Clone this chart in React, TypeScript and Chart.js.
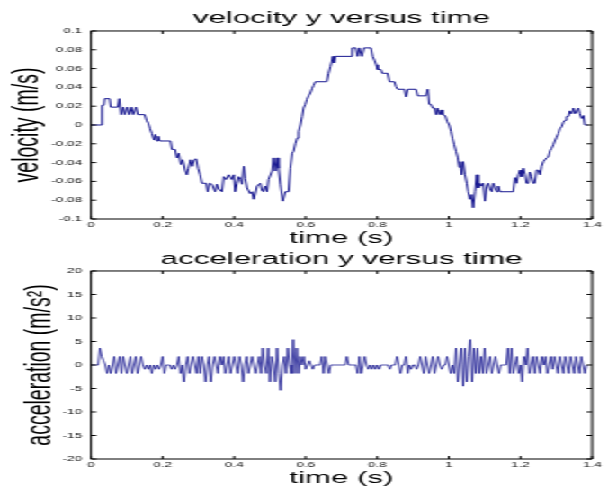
import React, { useEffect, useRef } from "react";
import { Chart, registerables } from "chart.js";

Chart.register(...registerables);

// ---------------- data ----------------
const timeTicks = [0, 0.2, 0.4, 0.6, 0.8, 1, 1.2, 1.4];
const timeTickLabels = ["0", "0.2", "0.4", "0.6", "0.8", "1", "1.2", "1.4"];

const velTicks = [-0.1, -0.08, -0.06, -0.04, -0.02, 0, 0.02, 0.04, 0.06, 0.08, 0.1];
const velTickLabels = ["-0.1", "-0.08", "-0.06", "-0.04", "-0.02", "0", "0.02", "0.04", "0.06", "0.08", "0.1"];

const accTicks = [-20, -15, -10, -5, 0, 5, 10, 15, 20];
const accTickLabels = ["-20", "-15", "-10", "-5", "0", "5", "10", "15", "20"];

const velTime = [
  0, 0.028, 0.031, 0.036, 0.038, 0.052, 0.055, 0.075, 0.079, 0.084,
  0.09, 0.094, 0.101, 0.106, 0.113, 0.118, 0.126, 0.131, 0.15, 0.155,
  0.16, 0.165, 0.17, 0.176, 0.18, 0.184, 0.188, 0.192, 0.222, 0.226,
  0.235, 0.24, 0.245, 0.251, 0.256, 0.263, 0.268, 0.272, 0.278, 0.283,
  0.288, 0.294, 0.299, 0.305, 0.31, 0.322, 0.326, 0.331, 0.338, 0.347,
  0.352, 0.357, 0.366, 0.371, 0.378, 0.385, 0.394, 0.399, 0.403, 0.408,
  0.413, 0.418, 0.422, 0.427, 0.431, 0.436, 0.445, 0.45, 0.455, 0.464,
  0.473, 0.478, 0.482, 0.487, 0.492, 0.496, 0.506, 0.51, 0.515, 0.52,
  0.524, 0.529, 0.536, 0.543, 0.552, 0.557, 0.562, 0.566, 0.571, 0.576,
  0.58, 0.585, 0.59, 0.594, 0.599, 0.603, 0.608, 0.613, 0.618, 0.622,
  0.627, 0.659, 0.664, 0.669, 0.673, 0.676, 0.679, 0.683, 0.726, 0.73,
  0.74, 0.745, 0.75, 0.757, 0.763, 0.782, 0.787, 0.792, 0.797, 0.801,
  0.81, 0.814, 0.829, 0.834, 0.848, 0.852, 0.857, 0.876, 0.88, 0.885,
  0.908, 0.913, 0.936, 0.941, 0.945, 0.95, 0.955, 0.96, 0.964, 0.968,
  0.973, 0.978, 0.982, 0.99, 0.995, 1.001, 1.006, 1.01, 1.015, 1.02,
  1.025, 1.029, 1.032, 1.036, 1.04, 1.045, 1.05, 1.054, 1.059, 1.063,
  1.068, 1.073, 1.078, 1.082, 1.087, 1.092, 1.096, 1.101, 1.106, 1.11,
  1.115, 1.12, 1.124, 1.129, 1.134, 1.138, 1.143, 1.18, 1.185, 1.189,
  1.194, 1.199, 1.203, 1.208, 1.213, 1.217, 1.222, 1.226, 1.231, 1.236,
  1.24, 1.245, 1.25, 1.255, 1.259, 1.264, 1.273, 1.278, 1.283, 1.287,
  1.292, 1.296, 1.301, 1.306, 1.31, 1.315, 1.32, 1.325, 1.329, 1.334,
  1.338, 1.343, 1.348, 1.353, 1.357, 1.362, 1.366, 1.371, 1.376, 1.38,
  1.388,
];

const velValues = [
  0, 0, 0.021, 0.021, 0.028, 0.028, 0.019, 0.019, 0.028, 0.011,
  0.019, 0.011, 0.019, 0.011, 0.019, 0.011, 0.019, 0.011, 0.011, 0.005,
  0.002, -0.004, -0.009, -0.016, -0.01, -0.017, -0.012, -0.017, -0.017, -0.026,
  -0.026, -0.035, -0.03, -0.042, -0.037, -0.048, -0.053, -0.046, -0.037, -0.044,
  -0.037, -0.036, -0.046, -0.053, -0.062, -0.062, -0.071, -0.062, -0.063, -0.071,
  -0.063, -0.068, -0.071, -0.055, -0.058, -0.053, -0.058, -0.053, -0.071, -0.062,
  -0.055, -0.058, -0.063, -0.044, -0.057, -0.067, -0.073, -0.071, -0.079, -0.065,
  -0.062, -0.07, -0.071, -0.065, -0.071, -0.058, -0.049, -0.035, -0.049, -0.035,
  -0.046, -0.063, -0.081, -0.071, -0.071, -0.046, -0.03, -0.028, -0.02, -0.014,
  -0.007, 0, 0.009, 0.018, 0.022, 0.027, 0.031, 0.034, 0.039, 0.042,
  0.046, 0.046, 0.055, 0.062, 0.068, 0.073, 0.066, 0.073, 0.073, 0.082,
  0.082, 0.073, 0.082, 0.073, 0.082, 0.082, 0.073, 0.069, 0.064, 0.059,
  0.059, 0.055, 0.055, 0.046, 0.046, 0.041, 0.038, 0.038, 0.03, 0.038,
  0.038, 0.031, 0.031, 0.038, 0.022, 0.022, 0.018, 0.018, 0.011, 0.018,
  0.011, 0.016, 0.011, 0.01, 0.004, 0, -0.007, -0.014, -0.021, -0.028,
  -0.035, -0.045, -0.039, -0.053, -0.039, -0.053, -0.062, -0.071, -0.079, -0.074,
  -0.088, -0.071, -0.053, -0.067, -0.062, -0.065, -0.062, -0.081, -0.065, -0.062,
  -0.068, -0.071, -0.062, -0.067, -0.071, -0.065, -0.071, -0.071, -0.056, -0.062,
  -0.053, -0.048, -0.055, -0.046, -0.053, -0.062, -0.062, -0.05, -0.055, -0.062,
  -0.062, -0.048, -0.048, -0.053, -0.044, -0.039, -0.035, -0.034, -0.027, -0.025,
  -0.021, -0.017, -0.013, -0.009, -0.004, -0.002, 0.003, 0.005, 0.009, 0.009,
  0.015, 0.012, 0.018, 0.012, 0.014, 0.018, 0.012, 0.007, 0.01, 0,
  0,
];

const accSampleStep = 0.005; // sampling interval (s)
const accValues = [
  0, 0, 0, 0, 0, 3.6, 1.8, 0.9, 0, -1.8,
  0, -1.8, 0, 1.8, -1.8, 0, 1.8, -1.8, 1.8, 0,
  -1.8, 0, 1.8, -1.8, 0, 1.8, -1.8, 0, 1.8, 0,
  -0.9, 0, -0.9, 0, -1.8, 0, -0.9, 0, -0.9, 0,
  1.8, -1.8, 0, 0, 0, -0.9, 0, -0.9, 0, 1.8,
  -1.8, 0, -3.6, 0, 1.8, -1.8, 0, 1.8, 0, -1.8,
  1.8, -1.8, 1.8, 0, -3.6, 0, 1.8, -3.6, 0, 1.8,
  0, -1.8, 1.8, 0, 1.8, -1.8, 0, 1.8, -1.8, 0,
  1.8, 0, -1.8, 1.8, 0, -3.6, 0, 1.8, -1.8, 0,
  1.8, 0, -1.8, 0, 1.8, -1.8, 3.6, 0, -1.8, 3.6,
  -3.6, 1.8, 0, -3.6, 3.6, -1.8, -5.4, 0, 1.8, -1.8,
  3.6, 0, -1.8, 5.4, -1.8, 3.6, -1.8, 1.8, 0, 1.8,
  -0.9, 0, 0.9, 0, -0.9, 0, 0, 0, 0, 1.8,
  -1.8, 1.8, 0, -1.8, 0, 0, 0, 0, 0, 0,
  0, 0, 0, 1.8, 0, 0, 0, 0, 0, -1.8,
  1.8, -1.8, 0, 1.8, 0, -0.9, 0, -0.9, 0, -0.9,
  0, -0.9, 0, 0, 0, 0, 0, -0.9, 0, 0,
  0, 1.8, 0, -1.8, 0, 0, 1.8, -1.8, 0, -0.9,
  0, 0, -0.9, 0, 1.8, 0, -1.8, 1.8, 0, -1.8,
  0, 1.8, -1.8, 0, 1.8, 0, -0.9, 0, 0, 1.8,
  0, -1.8, 0, -1.8, 3.6, -3.6, 0, 3.6, -4.5, 3.6,
  -3.6, 1.8, 5.4, -3.6, 3.6, -1.8, 3.6, -1.8, 1.8, -1.8,
  3.6, -1.8, 0, 1.8, -1.8, 0, 1.8, 0, -1.8, 0,
  0, 0, 0, 3.6, -1.8, 3.6, -1.8, 0, 1.8, -1.8,
  0, -3.6, 1.8, 0, 3.6, -1.8, 0, 1.8, -1.8, 1.8,
  0, -1.8, 1.8, 0, 1.8, -1.8, 0, 1.8, -0.9, 1.8,
  0, -1.8, 1.8, 0, -1.8, 1.8, 0, -1.8, 1.8, 0,
  -1.8, 1.8, 0, -1.8, 1.8, 0, -1.8, 0,
];

// ---------------- layout ----------------
const INNER_W = 338; // canvas width before the horizontal stretch
const STRETCH = 608 / INNER_W;
const H = 490;
const PLOT_LEFT = 91 / STRETCH;
const PLOT_RIGHT = 592 / STRETCH;

const SANS = "'Liberation Sans', Arial, sans-serif";
const NARROW = "'Liberation Sans Narrow', 'Arial Narrow', 'Liberation Sans', sans-serif";
const LINE_COLOR = "#16168f";

const matlabAxes = {
  id: "matlabAxes",
  afterDatasetsDraw(chart: any) {
    const { ctx, chartArea: a, scales } = chart;
    const xs = scales.x;
    const ys = scales.y;
    const len = 3;
    ctx.save();
    ctx.strokeStyle = "#000";
    ctx.lineWidth = 1;
    ctx.beginPath();
    ctx.rect(a.left, a.top, a.right - a.left, a.bottom - a.top);
    for (const t of xs.ticks) {
      const px = xs.getPixelForValue(t.value);
      ctx.moveTo(px, a.bottom);
      ctx.lineTo(px, a.bottom - len);
      ctx.moveTo(px, a.top);
      ctx.lineTo(px, a.top + len);
    }
    for (const t of ys.ticks) {
      const py = ys.getPixelForValue(t.value);
      ctx.moveTo(a.left, py);
      ctx.lineTo(a.left + len, py);
      ctx.moveTo(a.right, py);
      ctx.lineTo(a.right - len, py);
    }
    ctx.stroke();
    ctx.restore();
  },
};

type PanelOpts = {
  points: { x: number; y: number }[];
  lineWidth: number;
  title: string;
  yTitle: string;
  yTitlePad: number;
  yTitleSize: number;
  yMin: number;
  yMax: number;
  yTicks: number[];
  yLabels: string[];
  padTop: number;
  padBottom: number;
  titlePadTop: number;
  titlePadBottom: number;
};

function makeConfig(o: PanelOpts): any {
  return {
    type: "line",
    data: {
      datasets: [
        {
          data: o.points,
          borderColor: LINE_COLOR,
          borderWidth: o.lineWidth,
          pointRadius: 0,
          tension: 0,
          fill: false,
        },
      ],
    },
    options: {
      animation: false,
      responsive: true,
      maintainAspectRatio: false,
      events: [],
      layout: {
        padding: { left: 0, right: INNER_W - PLOT_RIGHT, top: o.padTop, bottom: o.padBottom },
      },
      plugins: {
        legend: { display: false },
        tooltip: { enabled: false },
        title: {
          display: true,
          text: o.title,
          fullSize: false,
          color: "#000",
          font: { family: SANS, size: 17.4, weight: "normal", lineHeight: 1.2 },
          padding: { top: o.titlePadTop, bottom: o.titlePadBottom },
        },
      },
      scales: {
        x: {
          type: "linear",
          min: 0,
          max: 1.4,
          afterBuildTicks: (s: any) => {
            s.ticks = timeTicks.map((v) => ({ value: v }));
          },
          afterFit: (s: any) => {
            s.height = 30;
          },
          grid: { display: false, drawTicks: false },
          border: { display: false },
          ticks: {
            autoSkip: false,
            maxRotation: 0,
            padding: 1.5,
            color: "#111",
            font: { family: SANS, size: 7.5 },
            callback: (_v: any, i: number) => timeTickLabels[i],
          },
          title: {
            display: true,
            text: "time (s)",
            color: "#000",
            font: { family: SANS, size: 17.4, lineHeight: 1.2 },
            padding: { top: 0, bottom: 0.5 },
          },
        },
        y: {
          type: "linear",
          min: o.yMin,
          max: o.yMax,
          afterBuildTicks: (s: any) => {
            s.ticks = o.yTicks.map((v) => ({ value: v }));
          },
          afterFit: (s: any) => {
            s.width = PLOT_LEFT;
          },
          grid: { display: false, drawTicks: false },
          border: { display: false },
          ticks: {
            autoSkip: false,
            padding: 5,
            color: "#111",
            font: { family: SANS, size: 7.5 },
            callback: (_v: any, i: number) => o.yLabels[i],
          },
          title: {
            display: true,
            text: o.yTitle,
            color: "#000",
            font: { family: NARROW, size: o.yTitleSize, lineHeight: 1.2 },
            padding: { top: o.yTitlePad, bottom: 0 },
          },
        },
      },
    },
    plugins: [matlabAxes],
  };
}

const velPoints = velTime.map((t, i) => ({ x: t, y: velValues[i] }));
const accPoints = accValues.map((v, i) => ({ x: i * accSampleStep, y: v }));

export default function App() {
  const topRef = useRef<HTMLCanvasElement | null>(null);
  const botRef = useRef<HTMLCanvasElement | null>(null);

  useEffect(() => {
    document.body.style.margin = "0";
    const top = new Chart(
      topRef.current as HTMLCanvasElement,
      makeConfig({
        points: velPoints,
        lineWidth: 1,
        title: "velocity y versus time",
        yTitle: "velocity (m/s)",
        yTitlePad: 3.9,
        yTitleSize: 19.5,
        yMin: -0.1,
        yMax: 0.1,
        yTicks: velTicks,
        yLabels: velTickLabels,
        padTop: 0,
        padBottom: 241,
        titlePadTop: 7.9,
        titlePadBottom: 2.2,
      })
    );
    const bot = new Chart(
      botRef.current as HTMLCanvasElement,
      makeConfig({
        points: accPoints,
        lineWidth: 0.8,
        title: "acceleration y versus time",
        yTitle: "acceleration (m/s²)",
        yTitlePad: 11,
        yTitleSize: 19.5,
        yMin: -20,
        yMax: 20,
        yTicks: accTicks,
        yLabels: accTickLabels,
        padTop: 240,
        padBottom: 1,
        titlePadTop: 8.5,
        titlePadBottom: 1.6,
      })
    );
    return () => {
      top.destroy();
      bot.destroy();
    };
  }, []);

  const layer: React.CSSProperties = {
    position: "absolute",
    left: 0,
    top: 0,
    width: INNER_W,
    height: H,
  };

  return (
    <div
      style={{
        position: "absolute",
        left: 0,
        top: 0,
        width: INNER_W,
        height: H,
        background: "#fff",
        transform: `scaleX(${STRETCH})`,
        transformOrigin: "0 0",
      }}
    >
      <div style={layer}>
        <canvas ref={topRef} />
      </div>
      <div style={layer}>
        <canvas ref={botRef} />
      </div>
    </div>
  );
}
